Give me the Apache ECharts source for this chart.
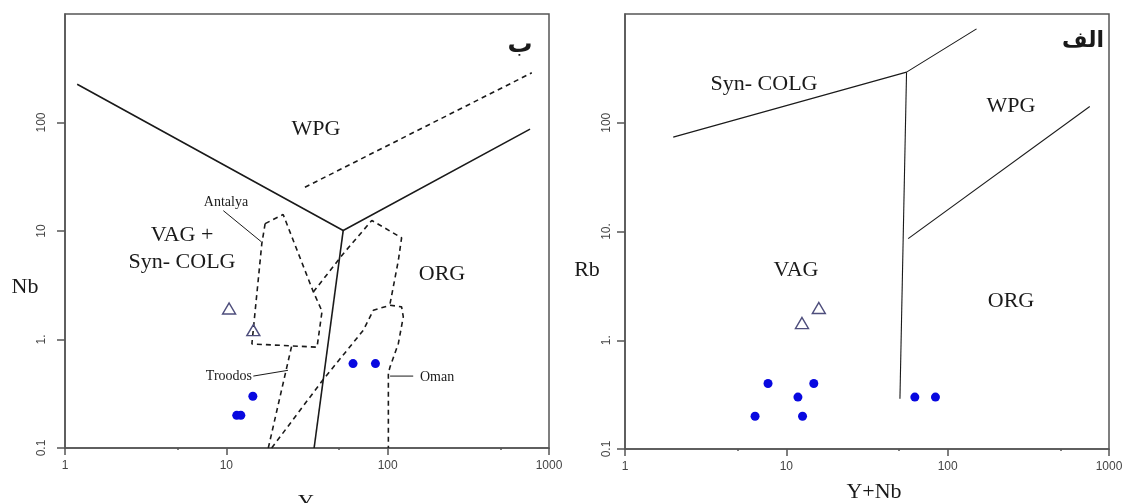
<!DOCTYPE html>
<html>
<head>
<meta charset="utf-8">
<script src="https://cdn.jsdelivr.net/npm/echarts@6/dist/echarts.min.js"></script>
<style>
  html, body { margin: 0; padding: 0; background: #fff; }
  #chart { width: 1126px; height: 503px; }
</style>
</head>
<body>
<div id="chart"></div>
<script>
// --- left diagram: Nb vs Y ---
const leftSampleY = [11.6, 12.3, 14.6, 61, 84];
const leftSampleNb = [0.2, 0.2, 0.3, 0.6, 0.6];
const leftTriY = [10.4, 14.7];
const leftTriNb = [1.93, 1.22];

const leftSolidA = [[1.19, 225], [53, 10.1], [763, 86.8]];
const leftSolidB = [[53, 10.1], [35, 0.1]];
const leftDashWPG = [[30.7, 25.3], [782, 287]];
const antalyaField = [[17.4, 11.7], [22.5, 14.2], [34.5, 2.78], [39.2, 1.82], [36.5, 0.85], [14.4, 0.91], [16.6, 7.68], [17.4, 11.7]];
const troodosLeft = [[18.2, 0.1], [25.4, 0.87]];
const troodosTop = [[34.6, 2.74], [53.1, 6.18], [79.7, 12.5], [122, 8.66], [116.5, 5.36], [103.5, 2.14]];
const omanField = [[19.1, 0.1], [39, 0.41], [70.7, 1.22], [81.5, 1.86], [103.5, 2.07], [122, 2.0], [125, 1.62], [116.5, 0.92], [103.5, 0.56], [101, 0.49], [101, 0.1]];
const antalyaLead = [[9.58, 15.4], [16.4, 8.0]];
const troodosLead = [[14.7, 0.46], [24.1, 0.52]];
const omanLead = [[103.5, 0.46], [144, 0.46]];

// --- right diagram: Rb vs Y+Nb ---
const rightSampleX = [6.4, 7.7, 11.8, 12.6, 14.8, 62.6, 84];
const rightSampleRb = [0.2, 0.4, 0.3, 0.2, 0.4, 0.3, 0.3];
const rightTriX = [12.5, 15.9];
const rightTriRb = [1.44, 1.98];

const rightSynColg = [[1.99, 73.8], [55.6, 292], [151, 730]];
const rightVertical = [[55.6, 292], [50.6, 0.29]];
const rightWpgOrg = [[56.9, 8.6], [760, 141]];

// tick labels
const xTicks = [1, 10, 100, 1000];
const xMinorTicks = [5, 50, 500];
const yTicks = [0.1, 1, 10, 100];
const leftYLabels = { 0.1: '0.1', 1: '1.', 10: '10', 100: '100' };
const rightYLabels = { 0.1: '0.1', 1: '1.', 10: '10.', 100: '100' };

function pairs(xs, ys) {
  return xs.map(function (x, i) { return [x, ys[i]]; });
}

const frameColor = '#555';
const tickFont = { color: '#444', fontSize: 12, fontFamily: 'Liberation Sans, Arial, sans-serif' };

function xMain(gridIndex) {
  return {
    type: 'log', logBase: 10, min: 1, max: 1000, gridIndex: gridIndex, position: 'bottom',
    axisLine: { show: true, lineStyle: { color: frameColor, width: 1.5 } },
    axisTick: { show: true, length: 7, customValues: xTicks, lineStyle: { color: frameColor, width: 1.5 } },
    axisLabel: Object.assign({ customValues: xTicks, margin: 12, formatter: function (v) { return String(v); } }, tickFont),
    splitLine: { show: false }
  };
}
function xMinor(gridIndex) {
  return {
    type: 'log', logBase: 10, min: 1, max: 1000, gridIndex: gridIndex, position: 'bottom',
    axisLine: { show: false },
    axisTick: { show: true, length: 2, customValues: xMinorTicks, lineStyle: { color: frameColor, width: 1.5 } },
    axisLabel: { show: false },
    splitLine: { show: false }
  };
}
function yMain(gridIndex, labels, margin) {
  return {
    type: 'log', logBase: 10, min: 0.1, max: 1000, gridIndex: gridIndex, position: 'left',
    axisLine: { show: true, lineStyle: { color: frameColor, width: 1.5 } },
    axisTick: { show: true, length: 8, customValues: yTicks, lineStyle: { color: frameColor, width: 1.5 } },
    axisLabel: Object.assign({
      customValues: yTicks, rotate: 90, margin: margin,
      formatter: function (v) { return labels[v] !== undefined ? labels[v] : ''; }
    }, tickFont),
    splitLine: { show: false }
  };
}

function lineSeries(data, xi, yi, dashed, width) {
  return {
    type: 'line', data: data, xAxisIndex: xi, yAxisIndex: yi,
    symbol: 'none', silent: true, animation: false,
    lineStyle: { color: '#1a1a1a', width: width || 1.6, type: dashed ? [5, 4] : 'solid' }
  };
}
function dots(data, xi, yi) {
  return {
    type: 'scatter', data: data, xAxisIndex: xi, yAxisIndex: yi, symbol: 'circle', symbolSize: 9,
    itemStyle: { color: '#0808e0', opacity: 1 }, animation: false, z: 5
  };
}
function triangles(data, xi, yi) {
  return {
    type: 'scatter', data: data, xAxisIndex: xi, yAxisIndex: yi, symbol: 'triangle', symbolSize: [13, 11],
    itemStyle: { color: 'rgba(255,255,255,0)', borderColor: '#4e4e7c', borderWidth: 1.4, opacity: 1 }, animation: false, z: 5
  };
}

function txt(x, y, text, size, opts) {
  return {
    type: 'text', x: x, y: y, silent: true,
    style: Object.assign({
      text: text, fontSize: size, fill: '#1a1a1a',
      fontFamily: 'Liberation Serif, Times New Roman, serif',
      align: 'center', verticalAlign: 'middle'
    }, opts || {})
  };
}

const chart = echarts.init(document.getElementById('chart'));
const option = {
  backgroundColor: '#fff',
  animation: false,
  grid: [
    { left: 65, top: 14, width: 484, height: 434, show: true, borderColor: frameColor, borderWidth: 1.5, backgroundColor: '#fff' },
    { left: 625, top: 14, width: 484, height: 435, show: true, borderColor: frameColor, borderWidth: 1.5, backgroundColor: '#fff' }
  ],
  xAxis: [xMain(0), xMinor(0), xMain(1), xMinor(1)],
  yAxis: [yMain(0, leftYLabels, 17), yMain(1, rightYLabels, 12)],
  series: [
    lineSeries(leftSolidA, 0, 0),
    lineSeries(leftSolidB, 0, 0),
    lineSeries(leftDashWPG, 0, 0, true),
    lineSeries(antalyaField, 0, 0, true),
    lineSeries(troodosLeft, 0, 0, true),
    lineSeries(troodosTop, 0, 0, true),
    lineSeries(omanField, 0, 0, true),
    lineSeries(antalyaLead, 0, 0, false, 1),
    lineSeries(troodosLead, 0, 0, false, 1),
    lineSeries(omanLead, 0, 0, false, 1),
    dots(pairs(leftSampleY, leftSampleNb), 0, 0),
    triangles(pairs(leftTriY, leftTriNb), 0, 0),

    lineSeries(rightSynColg, 2, 1, false, 1.1),
    lineSeries(rightVertical, 2, 1, false, 1.1),
    lineSeries(rightWpgOrg, 2, 1, false, 1.1),
    dots(pairs(rightSampleX, rightSampleRb), 2, 1),
    triangles(pairs(rightTriX, rightTriRb), 2, 1)
  ],
  graphic: [
    // left diagram labels
    txt(316, 129, 'WPG', 22),
    txt(182, 235, 'VAG +', 22),
    txt(182, 262, 'Syn- COLG', 22),
    txt(442, 274, 'ORG', 22),
    txt(226, 202, 'Antalya', 14),
    txt(252, 376, 'Troodos', 14, { align: 'right' }),
    txt(420, 377, 'Oman', 14, { align: 'left' }),
    txt(25, 287, 'Nb', 22),
    txt(306, 503, 'Y', 22),
    txt(520, 45, 'ب', 25, { fontFamily: 'DejaVu Sans, sans-serif', fontWeight: 'bold' }),
    // right diagram labels
    txt(764, 84, 'Syn- COLG', 22),
    txt(1011, 106, 'WPG', 22),
    txt(796, 270, 'VAG', 22),
    txt(1011, 301, 'ORG', 22),
    txt(587, 270, 'Rb', 22),
    txt(874, 492, 'Y+Nb', 22),
    txt(1083, 41, 'الف', 22, { fontFamily: 'DejaVu Sans, sans-serif', fontWeight: 'bold' })
  ]
};
chart.setOption(option);
window.addEventListener('resize', function () { chart.resize(); });
</script>
</body>
</html>
